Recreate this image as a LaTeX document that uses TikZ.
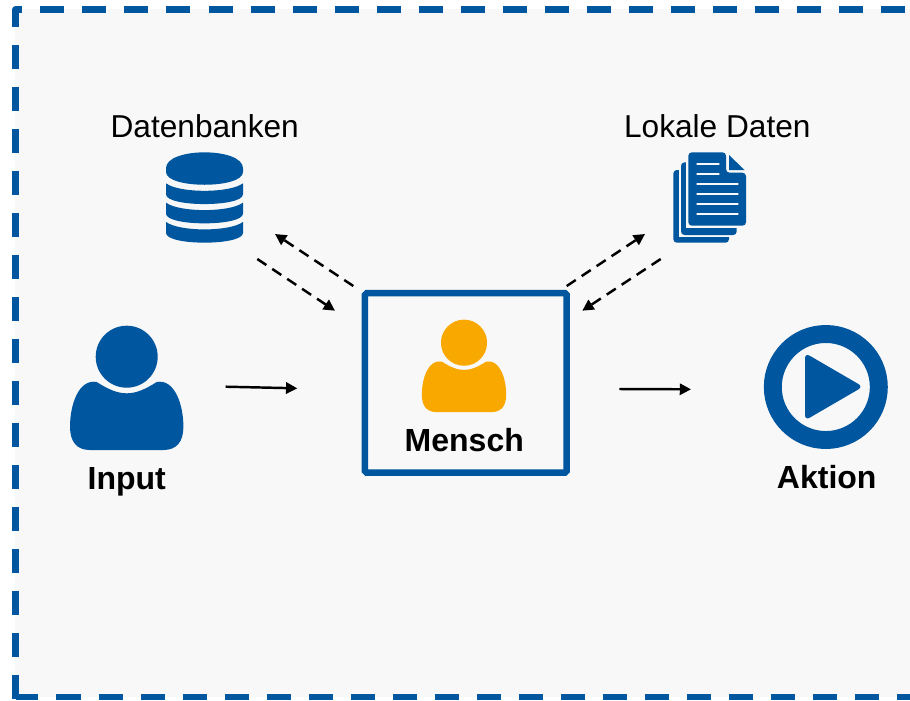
\documentclass[tikz,border=0pt]{standalone}
\usepackage{fontspec}
\setmainfont{Liberation Sans}
\usetikzlibrary{arrows.meta}
\definecolor{uniblue}{HTML}{00569F}
\definecolor{mensch}{HTML}{F9A800}
\definecolor{panel}{HTML}{F8F8F8}
\tikzset{
	label/.style={anchor=base, black, font=\fontsize{9}{11}\selectfont},
	boldlabel/.style={label, font=\fontsize{9.1}{11}\selectfont\bfseries},
	frame/.style={uniblue, line width=1.8pt, line join=round, dash pattern=on 6.83pt off 5.12pt},
	flow/.style={-{Triangle[length=3.2pt,width=3.2pt]}, black, line width=0.7pt},
	dataflow/.style={flow, dash pattern=on 3.1pt off 2pt},
	docline/.style={panel, line width=0.8pt, line cap=round},
	person/.pic={
		\fill[pic actions] (0,0) circle[radius=31];
		\fill[pic actions] (-30,25.3) .. controls (-18,33) and (-9,36.6) .. (0,36.6)
			.. controls (9,36.6) and (18,33) .. (30,25.3)
			.. controls (48,22) and (56.7,48) .. (56.7,70)
			.. controls (56.7,85) and (50,93.3) .. (36.7,93.3) -- (-36.7,93.3)
			.. controls (-50,93.3) and (-56.7,85) .. (-56.7,70)
			.. controls (-56.7,48) and (-48,22) .. (-30,25.3) -- cycle;
	}
}

\begin{document}
\begin{tikzpicture}[x=0.01cm, y=-0.01cm]
\clip (0,0) rectangle (910,700);
\fill[panel] (15,9) rectangle (910,697);
\draw[frame] (15.5,699) |- (950,9.5);
\draw[frame] (963,697) -- (15.5,697);

% Input
\pic[uniblue] at (126.7,356.7) {person};
\node[boldlabel] (input) at (126.7,489.8) {Input};

% Datenbanken
\node[label] (datenbanken) at (204.7,137.3) {Datenbanken};
\fill[uniblue] (166,168.3) .. controls (166,147) and (243,147) .. (243,168.3) -- (243,172)
	.. controls (243,189) and (166,189) .. (166,172) -- cycle;
\foreach \y in {183.3,202.6,221.9} {
	\fill[uniblue] (166,\y) .. controls (179,\y+10) and (230,\y+10) .. (243,\y) -- (243,\y+11)
		.. controls (243,\y+24) and (166,\y+24) .. (166,\y+11) -- cycle;
}

% Lokale Daten
\node[label] (lokale) at (717.3,137.3) {Lokale Daten};
\fill[uniblue, rounded corners=1pt] (673.3,170) rectangle (729,242.7);
\fill[panel] (678.7,165) rectangle (732,236.7);
\fill[uniblue, rounded corners=1pt] (681,162.3) rectangle (736.7,235);
\fill[panel] (686,157) rectangle (739,227.7);
\fill[uniblue, rounded corners=1pt] (688.3,152.3) -- (726,152.3) -- (726,172.7)
	-- (746,172.7) -- (746,225.7) -- (688.3,225.7) -- cycle;
\fill[uniblue] (729,155) -- (744.5,170) -- (729,170) -- cycle;
\draw[docline] (697.5,164) -- (718.5,164);
\draw[docline] (697.5,174) -- (718.5,174);
\foreach \y in {184,194,204,214} {
	\draw[docline] (697.5,\y) -- (737.5,\y);
}

% Mensch
\node[draw=uniblue, line width=1.85pt, rounded corners=0.5pt, minimum width=57.4pt, minimum height=51pt, inner sep=0pt] (box) at (465.8,382.9) {};
\pic[mensch, scale=0.744] at (464,342.7) {person};
\node[boldlabel] (menschlabel) at (464.3,451.7) {Mensch};

% Aktion
\draw[uniblue, line width=5.1pt] (825.8,387) circle[radius=53];
\fill[uniblue, rounded corners=1.5pt] (805,353) -- (863,386.7) -- (805,420.4) -- cycle;
\node[boldlabel] (aktion) at (826.7,488.8) {Aktion};

% Pfeile
\coordinate (inA) at (225.7,386.7);
\coordinate (inB) at (297.3,388.3);
\coordinate (outA) at (619.3,389);
\coordinate (outB) at (691,389.3);
\coordinate (dbA) at (275,234);
\coordinate (dbB) at (257.3,259);
\coordinate (boxNW) at (353.3,286);
\coordinate (boxW) at (335,310.7);
\coordinate (docA) at (645,234);
\coordinate (docB) at (660.7,259);
\coordinate (boxNE) at (566.7,286);
\coordinate (boxE) at (582.3,310.7);
\draw[flow] (inA) -- (inB);
\draw[flow] (outA) -- (outB);
\draw[dataflow] (boxNW) -- (dbA);
\draw[dataflow] (dbB) -- (boxW);
\draw[dataflow] (boxNE) -- (docA);
\draw[dataflow] (docB) -- (boxE);
\end{tikzpicture}
\end{document}
